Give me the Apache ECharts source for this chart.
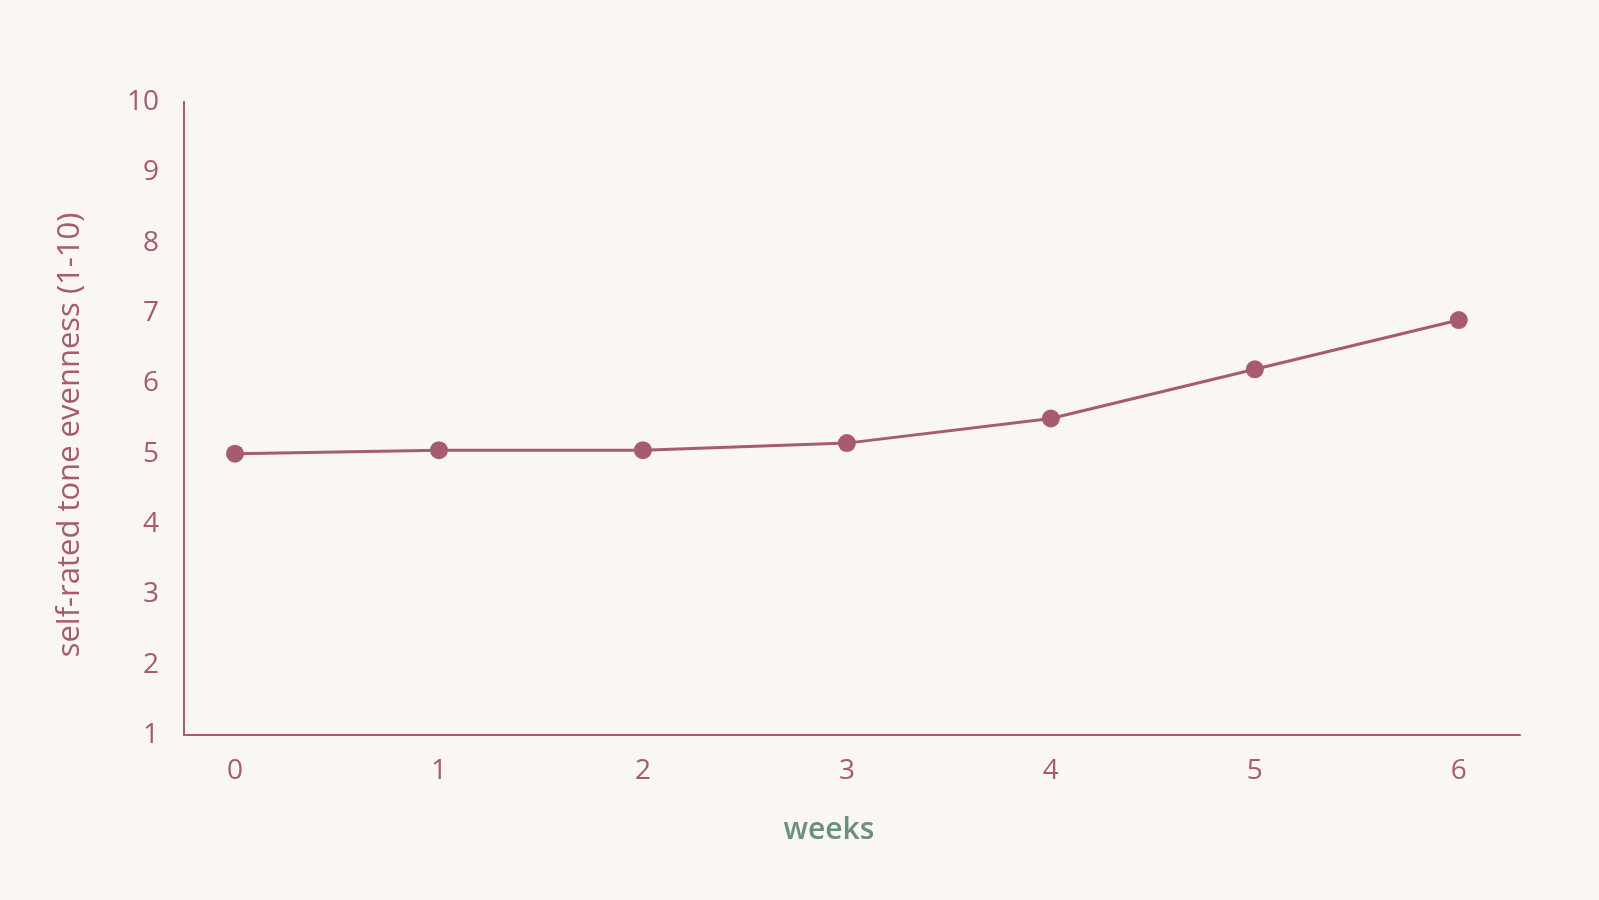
<!DOCTYPE html>
<html>
<head>
<meta charset="utf-8">
<script src="https://cdn.jsdelivr.net/npm/echarts@6/dist/echarts.min.js"></script>
<style>
  html, body { margin: 0; padding: 0; background: #faf6f2; }
  #chart { width: 1599px; height: 900px; }
</style>
</head>
<body>
<div id="chart"></div>
<script>
// weeks since start
var weeks = [0, 1, 2, 3, 4, 5, 6];
// self-rated tone evenness (1-10)
var evenness = [5.0, 5.05, 5.05, 5.15, 5.5, 6.2, 6.9];

var rose = '#a65b73';
var sage = '#6b9080';

var chart = echarts.init(document.getElementById('chart'));
chart.setOption({
    backgroundColor: '#faf6f2',
    textStyle: { fontFamily: 'Open Sans' },
    grid: {
        left: 184,
        right: 79,
        top: 102,
        bottom: 165
    },
    xAxis: {
        type: 'value',
        min: -0.25,
        max: 6.3,
        splitNumber: 7,
        name: 'weeks',
        nameLocation: 'middle',
        nameGap: 80,
        nameTextStyle: {
            color: sage,
            fontSize: 30,
            fontWeight: 600,
            padding: [0, 46, 0, 0]
        },
        axisLine: { show: true, onZero: false, lineStyle: { color: rose, width: 2 } },
        axisTick: { show: false },
        splitLine: { show: false },
        axisLabel: {
            color: rose,
            fontSize: 28,
            fontWeight: 500,
            margin: 22,
            formatter: function (v) {
                return Number.isInteger(v) ? String(v) : '';
            }
        }
    },
    yAxis: {
        type: 'value',
        min: 1,
        max: 10,
        interval: 1,
        name: 'self-rated tone evenness (1-10)',
        nameLocation: 'middle',
        nameGap: 98,
        nameTextStyle: {
            color: rose,
            fontSize: 31,
            fontWeight: 500,
            padding: [0, 33, 0, 0]
        },
        axisLine: { show: true, onZero: false, lineStyle: { color: rose, width: 2 } },
        axisTick: { show: false },
        splitLine: { show: false },
        axisLabel: {
            color: rose,
            fontSize: 28,
            fontWeight: 500,
            margin: 25
        }
    },
    series: [{
        type: 'line',
        data: weeks.map(function (w, i) { return [w, evenness[i]]; }),
        symbol: 'circle',
        symbolSize: 18,
        lineStyle: { color: rose, width: 3 },
        itemStyle: { color: rose },
        animation: false
    }]
});
</script>
</body>
</html>
